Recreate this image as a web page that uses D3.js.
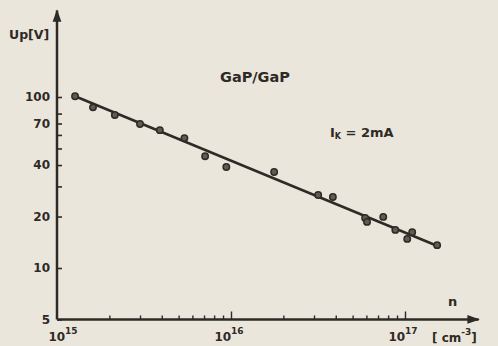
<!DOCTYPE html>
<html>
<head>
<meta charset="utf-8">
<script src="https://cdn.jsdelivr.net/npm/d3@7"></script>
<style>
  html, body { margin: 0; padding: 0; background: #ebe6dc; }
  svg { display: block; }
  text { font-family: 'DejaVu Sans', sans-serif; font-weight: bold; fill: #2e2a26; }
</style>
</head>
<body>
<svg id="chart" width="498" height="346"></svg>
<script>
// measured points: carrier concentration n [cm^-3] vs. Up [V]
const concentration = [1.27e15, 1.61e15, 2.15e15, 3.0e15, 3.9e15, 5.4e15, 7.1e15, 9.4e15,
  1.77e16, 3.17e16, 3.85e16, 5.9e16, 6.05e16, 7.5e16, 8.8e16, 1.03e17, 1.1e17, 1.53e17];
const voltage = [101, 87, 78.5, 69.5, 64, 57.5, 45, 39,
  36.4, 26.7, 26, 19.6, 18.6, 19.9, 16.7, 14.8, 16.2, 13.6];

// fitted line endpoints
const fitN = [1.24e15, 1.55e17];
const fitU = [102, 13.4];

const yTicks = [5, 10, 20, 30, 40, 50, 60, 70, 80, 100];
const yLabels = [5, 10, 20, 40, 70, 100];
const xTicks = [1e15, 2e15, 3e15, 4e15, 5e15, 6e15, 7e15, 8e15, 9e15,
  1e16, 2e16, 3e16, 4e16, 5e16, 6e16, 7e16, 8e16, 9e16, 1e17];
const xLabels = { 1e15: '15', 1e16: '16', 1e17: '17' };

const ink = '#2e2a26';
const svg = d3.select('#chart');

const x = d3.scaleLog().domain([1e15, 1e17]).range([57, 405]);
const y = d3.scaleLog().domain([10, 100]).range([268, 97]);

const x0 = x(1e15);
const y0 = y(5);
const xEnd = x(2.65e17);
const yTop = y(320);

// axis lines with arrows
svg.append('defs').append('marker')
  .attr('id', 'arrow')
  .attr('viewBox', '0 0 10 10')
  .attr('refX', 9)
  .attr('refY', 5)
  .attr('markerWidth', 5)
  .attr('markerHeight', 5)
  .attr('orient', 'auto')
  .append('path')
  .attr('d', 'M0,1.5 L10,5 L0,8.5 Z')
  .attr('fill', ink);

svg.append('line')
  .attr('x1', x0).attr('y1', y0).attr('x2', xEnd).attr('y2', y0)
  .attr('stroke', ink).attr('stroke-width', 2.5)
  .attr('marker-end', 'url(#arrow)');
svg.append('line')
  .attr('x1', x0).attr('y1', y0).attr('x2', x0).attr('y2', yTop)
  .attr('stroke', ink).attr('stroke-width', 2.5)
  .attr('marker-end', 'url(#arrow)');

// y axis, ticks pointing inside
const yAxis = svg.append('g')
  .attr('transform', `translate(${x0},0)`)
  .call(d3.axisLeft(y)
    .tickValues(yTicks)
    .tickSize(-5)
    .tickPadding(7)
    .tickFormat((d) => (yLabels.includes(d) ? d : '')));
yAxis.select('.domain').remove();
yAxis.selectAll('line').attr('stroke', ink).attr('stroke-width', 1.6);
yAxis.selectAll('text').attr('font-size', 12).attr('fill', ink)
  .style('font-family', "'DejaVu Sans', sans-serif").style('font-weight', 'bold');

// x axis, ticks pointing up
const xAxis = svg.append('g')
  .attr('transform', `translate(0,${y0})`)
  .call(d3.axisBottom(x)
    .tickValues(xTicks.slice(1))
    .tickSize(0)
    .tickFormat(''));
xAxis.select('.domain').remove();
xAxis.selectAll('.tick line')
  .attr('y2', (d) => (xLabels[d] ? -8 : -4))
  .attr('stroke', ink).attr('stroke-width', 1.4);

// decade labels 10^15 ...
Object.keys(xLabels).forEach((k) => {
  const t = svg.append('text')
    .attr('x', x(+k) + (+k === 1e15 ? 6 : -2))
    .attr('y', 341)
    .attr('text-anchor', 'middle')
    .attr('font-size', 12);
  t.append('tspan').text('10');
  t.append('tspan').attr('dy', -7).attr('font-size', 9).text(xLabels[k]);
});

// fitted line
svg.append('path')
  .datum(fitN.map((n, i) => [n, fitU[i]]))
  .attr('fill', 'none')
  .attr('stroke', ink)
  .attr('stroke-width', 2.5)
  .attr('d', d3.line().x((d) => x(d[0])).y((d) => y(d[1])));

// measured points
svg.append('g').selectAll('circle')
  .data(concentration.map((n, i) => [n, voltage[i]]))
  .join('circle')
  .attr('cx', (d) => x(d[0]))
  .attr('cy', (d) => y(d[1]))
  .attr('r', 3.2)
  .attr('fill', '#625b53')
  .attr('stroke', ink)
  .attr('stroke-width', 1.5);

// labels
svg.append('text').attr('x', 9).attr('y', 39).attr('font-size', 12.5).text('Up[V]');
svg.append('text').attr('x', 220).attr('y', 82).attr('font-size', 14.5).text('GaP/GaP');
const ik = svg.append('text').attr('x', 330).attr('y', 137).attr('font-size', 13);
ik.append('tspan').text('I');
ik.append('tspan').attr('font-size', 8).attr('dy', 2).text('K');
ik.append('tspan').attr('dy', -2).text(' = 2mA');
svg.append('text').attr('x', 448).attr('y', 306).attr('font-size', 13).text('n');
const unit = svg.append('text').attr('x', 432).attr('y', 342).attr('font-size', 12);
unit.append('tspan').text('[ cm');
unit.append('tspan').attr('dy', -7).attr('font-size', 9).text('-3');
unit.append('tspan').attr('dy', 7).text(']');
</script>
</body>
</html>
